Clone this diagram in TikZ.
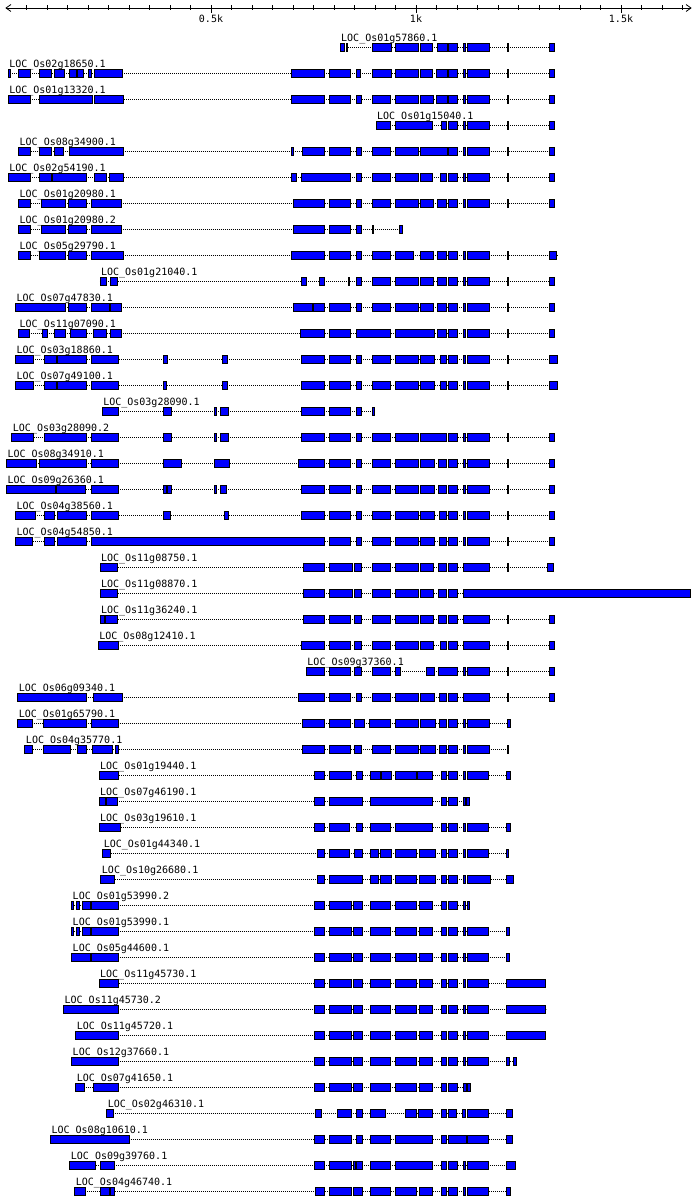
\documentclass[tikz,border=0pt]{standalone}
\usepackage{fontspec}
\newfontfamily\lblfont{DejaVu Sans Mono}
\tikzset{
  exon/.style={draw=black, fill=blue, line width=0.8pt},
  intron/.style={draw=black, line width=0.8pt, dash pattern=on 1pt off 1pt},
  lbl/.style={font=\lblfont\fontsize{10}{12}\selectfont, inner sep=0pt, anchor=base west},
  axisline/.style={draw=black, line width=0.8pt},
}
\newcommand\drawgene[5]{%
  \pgfmathsetmacro\yc{47.5+26*(#1-1)}
  \coordinate (s#1) at (#3,\yc);
  \coordinate (e#1) at (#4,\yc);
  \draw[intron] (s#1) -- (e#1);
  \foreach \a/\b in {#5} {\draw[exon] (\a,\yc-4) rectangle (\b,\yc+4);}
  \node[lbl] (l#1) at (#3+2,\yc-6) {#2};
}
\begin{document}
\begin{tikzpicture}[x=1pt,y=-1pt]
\useasboundingbox (0,0) rectangle (700,1201);
\fill[white] (0,0) rectangle (700,1201);
% axis
\coordinate (axL) at (6,8);
\coordinate (axR) at (691,8);
\draw[axisline] (axL) -- (axR);
\draw[axisline] (11,4.5) -- (axL) -- (11,11.5);
\draw[axisline] (686,4.5) -- (axR) -- (686,11.5);
\foreach \u in {50,100,...,1650} {\draw[axisline] ({6+\u*0.41},5.5) -- ({6+\u*0.41},10.5);}
\foreach \u/\t in {500/0.5k,1000/1k,1500/1.5k} {
  \draw[axisline] ({6+\u*0.41},5.5) -- ({6+\u*0.41},13.5);
  \node[lbl, anchor=base] (t\u) at ({6+\u*0.41},22.5) {\t};
}
\begin{scope}[x=0.44964pt, xshift=-3.892pt]
\drawgene{1}{LOC\_Os01g57860.1}{765}{1241}{765/774, 778/782, 836/878, 889/940, 943/971, 981/1003, 1006/1025, 1040/1044, 1048/1097, 1137/1139, 1230/1241}
\drawgene{2}{LOC\_Os02g18650.1}{27}{1241}{27/31, 49/77, 97/123, 129/151, 164/178, 181/194, 206/211, 218/281, 657/729, 741/787, 801/811, 836/878, 889/940, 943/971, 980/1003, 1006/1025, 1040/1044, 1048/1097, 1137/1139, 1230/1241}
\drawgene{3}{LOC\_Os01g13320.1}{27}{1241}{27/77, 97/215, 218/283, 657/729, 741/787, 801/812, 836/877, 889/940, 943/973, 980/1003, 1006/1025, 1040/1044, 1048/1097, 1137/1139, 1230/1241}
\drawgene{4}{LOC\_Os01g15040.1}{845}{1241}{845/877, 889/970, 990/1002, 1006/1025, 1040/1044, 1048/1097, 1137/1139, 1230/1241}
\drawgene{5}{LOC\_Os08g34900.1}{50}{1241}{50/77, 97/122, 129/149, 164/283, 657/662, 681/729, 741/787, 801/812, 836/877, 889/940, 943/1003, 1006/1025, 1040/1044, 1048/1097, 1137/1139, 1230/1241}
\drawgene{6}{LOC\_Os02g54190.1}{27}{1241}{27/77, 97/122, 126/201, 218/246, 251/283, 657/667, 679/787, 801/812, 836/877, 889/940, 943/971, 987/1002, 1006/1025, 1040/1044, 1048/1097, 1137/1139, 1230/1241}
\drawgene{7}{LOC\_Os01g20980.1}{50}{1241}{50/77, 100/153, 161/201, 212/278, 662/731, 741/787, 801/812, 836/877, 889/940, 943/973, 981/1002, 1006/1025, 1040/1044, 1048/1097, 1137/1139, 1230/1241}
\drawgene{8}{LOC\_Os01g20980.2}{50}{904}{50/77, 100/154, 161/201, 212/278, 662/731, 741/787, 801/812, 836/838, 897/904}
\drawgene{9}{LOC\_Os05g29790.1}{50}{1247}{50/77, 97/154, 161/201, 212/283, 657/731, 741/787, 801/812, 836/877, 889/927, 943/973, 981/1002, 1006/1025, 1040/1044, 1048/1097, 1137/1139, 1230/1247}
\drawgene{10}{LOC\_Os01g21040.1}{231}{1241}{231/245, 254/270, 679/691, 719/729, 783/785, 801/812, 836/877, 889/940, 943/973, 981/1002, 1006/1025, 1040/1044, 1048/1097, 1137/1139, 1230/1241}
\drawgene{11}{LOC\_Os07g47830.1}{43}{1241}{43/153, 161/201, 212/251, 254/279, 662/703, 706/729, 741/787, 801/812, 836/877, 889/940, 943/973, 981/1002, 1006/1025, 1040/1044, 1048/1097, 1137/1139, 1230/1241}
\drawgene{12}{LOC\_Os11g07090.1}{50}{1241}{50/73, 102/115, 130/154, 166/201, 216/246, 254/279, 677/731, 741/787, 801/877, 889/975, 981/1002, 1006/1025, 1040/1044, 1048/1097, 1137/1139, 1230/1241}
\drawgene{13}{LOC\_Os03g18860.1}{43}{1249}{43/84, 108/133, 137/201, 212/272, 372/380, 504/514, 679/729, 741/787, 801/812, 836/877, 889/940, 943/975, 987/1002, 1006/1025, 1040/1044, 1048/1097, 1137/1139, 1230/1249}
\drawgene{14}{LOC\_Os07g49100.1}{43}{1249}{43/84, 108/133, 137/201, 212/272, 372/378, 504/514, 679/729, 741/787, 801/812, 836/877, 889/940, 943/975, 987/1002, 1006/1025, 1040/1044, 1048/1097, 1137/1139, 1230/1249}
\drawgene{15}{LOC\_Os03g28090.1}{236}{842}{236/272, 372/389, 485/490, 498/516, 679/729, 741/787, 801/812, 837/842}
\drawgene{16}{LOC\_Os03g28090.2}{35}{1241}{35/82, 108/201, 212/272, 372/389, 485/490, 498/516, 679/729, 741/787, 801/812, 836/877, 889/940, 943/1002, 1006/1025, 1040/1044, 1048/1097, 1137/1139, 1230/1241}
\drawgene{17}{LOC\_Os08g34910.1}{23}{1241}{23/89, 97/201, 212/272, 372/413, 485/518, 673/729, 741/787, 801/812, 836/877, 889/940, 943/975, 984/1002, 1006/1025, 1040/1044, 1048/1097, 1137/1139, 1230/1241}
\drawgene{18}{LOC\_Os09g26360.1}{23}{1241}{23/131, 135/198, 212/272, 372/379, 382/389, 485/490, 498/512, 679/729, 741/787, 801/812, 836/877, 889/940, 943/975, 984/1002, 1006/1025, 1040/1044, 1048/1097, 1137/1139, 1230/1241}
\drawgene{19}{LOC\_Os04g38560.1}{43}{1241}{43/88, 108/130, 137/201, 212/272, 372/387, 507/516, 679/729, 741/787, 801/812, 836/877, 889/940, 943/975, 986/1002, 1006/1025, 1040/1044, 1048/1097, 1137/1139, 1230/1241}
\drawgene{20}{LOC\_Os04g54850.1}{43}{1241}{43/80, 108/130, 137/201, 212/729, 741/787, 801/812, 836/877, 889/940, 943/975, 986/1002, 1006/1025, 1040/1044, 1048/1097, 1137/1139, 1230/1241}
\drawgene{21}{LOC\_Os11g08750.1}{231}{1240}{231/270, 683/729, 741/793, 797/812, 836/877, 889/940, 943/972, 984/1002, 1006/1025, 1040/1097, 1137/1139, 1226/1240}
\drawgene{22}{LOC\_Os11g08870.1}{231}{1545}{231/270, 683/729, 741/793, 797/812, 836/877, 889/940, 943/972, 984/1002, 1006/1025, 1040/1545}
\drawgene{23}{LOC\_Os11g36240.1}{231}{1241}{231/241, 244/270, 683/731, 741/787, 797/812, 836/877, 889/940, 943/972, 984/1002, 1006/1025, 1040/1097, 1137/1139, 1230/1241}
\drawgene{24}{LOC\_Os08g12410.1}{227}{1241}{227/272, 679/729, 741/787, 797/812, 836/877, 889/940, 943/972, 987/1002, 1006/1025, 1040/1097, 1137/1139, 1230/1241}
\drawgene{25}{LOC\_Os09g37360.1}{690}{1241}{690/729, 741/787, 797/812, 836/877, 889/899, 957/975, 984/1025, 1040/1044, 1048/1097, 1137/1139, 1230/1241}
\drawgene{26}{LOC\_Os06g09340.1}{48}{1241}{48/201, 216/281, 673/729, 741/787, 801/812, 836/877, 889/940, 943/975, 986/1002, 1006/1025, 1040/1097, 1137/1139, 1230/1241}
\drawgene{27}{LOC\_Os01g65790.1}{48}{1143}{48/80, 105/201, 212/272, 681/729, 741/787, 797/819, 831/877, 889/940, 943/978, 986/1002, 1006/1025, 1040/1044, 1048/1097, 1136/1143}
\drawgene{28}{LOC\_Os04g35770.1}{64}{1140}{64/80, 105/166, 180/201, 214/259, 265/272, 681/729, 741/787, 797/812, 836/877, 889/940, 943/978, 986/1002, 1006/1025, 1040/1044, 1048/1097, 1136/1140}
\drawgene{29}{LOC\_Os01g19440.1}{229}{1143}{229/271, 708/729, 741/790, 801/814, 833/854, 857/878, 889/934, 937/971, 990/1002, 1006/1025, 1040/1044, 1048/1095, 1134/1143}
\drawgene{30}{LOC\_Os07g46190.1}{229}{1052}{229/242, 246/270, 708/729, 741/814, 833/970, 990/1002, 1006/1025, 1040/1044, 1047/1052}
\drawgene{31}{LOC\_Os03g19610.1}{229}{1143}{229/277, 708/729, 741/785, 801/814, 833/877, 889/970, 990/1002, 1006/1025, 1040/1044, 1048/1095, 1134/1143}
\drawgene{32}{LOC\_Os01g44340.1}{237}{1139}{237/254, 715/729, 741/785, 797/814, 833/851, 855/878, 889/934, 941/976, 990/1002, 1006/1025, 1040/1044, 1048/1095, 1134/1139}
\drawgene{33}{LOC\_Os10g26680.1}{233}{1150}{233/263, 715/729, 741/814, 833/851, 855/878, 889/934, 941/976, 990/1002, 1006/1025, 1040/1044, 1048/1100, 1134/1150}
\drawgene{34}{LOC\_Os01g53990.2}{168}{1053}{168/173, 178/186, 193/209, 213/272, 708/729, 741/790, 795/814, 833/877, 889/934, 941/971, 990/1002, 1006/1025, 1040/1044, 1048/1053}
\drawgene{35}{LOC\_Os01g53990.1}{168}{1141}{168/173, 178/186, 193/209, 213/272, 708/729, 741/790, 795/814, 833/877, 889/934, 941/971, 990/1002, 1006/1025, 1040/1044, 1048/1095, 1134/1141}
\drawgene{36}{LOC\_Os05g44600.1}{168}{1141}{168/209, 213/272, 708/729, 741/790, 795/814, 833/877, 889/934, 941/971, 990/1002, 1006/1025, 1040/1044, 1048/1095, 1134/1141}
\drawgene{37}{LOC\_Os11g45730.1}{229}{1222}{229/272, 708/729, 741/790, 795/814, 833/877, 889/934, 941/971, 990/1002, 1006/1025, 1040/1044, 1048/1095, 1134/1222}
\drawgene{38}{LOC\_Os11g45730.2}{150}{1222}{150/272, 708/729, 741/790, 795/814, 833/877, 889/934, 941/971, 990/1002, 1006/1025, 1040/1044, 1048/1095, 1134/1222}
\drawgene{39}{LOC\_Os11g45720.1}{177}{1222}{177/272, 708/729, 741/790, 795/814, 833/877, 889/934, 941/971, 990/1002, 1006/1025, 1040/1044, 1048/1095, 1134/1222}
\drawgene{40}{LOC\_Os12g37660.1}{168}{1157}{168/272, 708/729, 741/790, 795/814, 833/877, 889/934, 941/971, 990/1002, 1006/1025, 1040/1044, 1048/1095, 1134/1141, 1151/1157}
\drawgene{41}{LOC\_Os07g41650.1}{177}{1054}{177/196, 217/272, 708/729, 741/790, 795/814, 833/877, 889/934, 941/971, 990/1002, 1006/1025, 1040/1045, 1048/1054}
\drawgene{42}{LOC\_Os02g46310.1}{246}{1148}{246/261, 710/723, 760/790, 802/814, 833/866, 910/935, 939/971, 990/1002, 1006/1023, 1038/1044, 1048/1095, 1134/1148}
\drawgene{43}{LOC\_Os08g10610.1}{121}{1148}{121/297, 708/729, 741/790, 802/814, 833/877, 889/970, 990/1002, 1006/1045, 1048/1095, 1134/1148}
\drawgene{44}{LOC\_Os09g39760.1}{164}{1155}{164/221, 231/263, 708/729, 741/790, 795/798, 802/814, 833/877, 889/970, 990/1002, 1006/1025, 1040/1044, 1048/1095, 1134/1155}
\drawgene{45}{LOC\_Os04g46740.1}{175}{1143}{175/198, 233/251, 254/262, 710/729, 741/790, 795/814, 833/877, 889/934, 941/971, 990/1002, 1006/1025, 1040/1044, 1048/1095, 1134/1143}
\end{scope}
\end{tikzpicture}
\end{document}
